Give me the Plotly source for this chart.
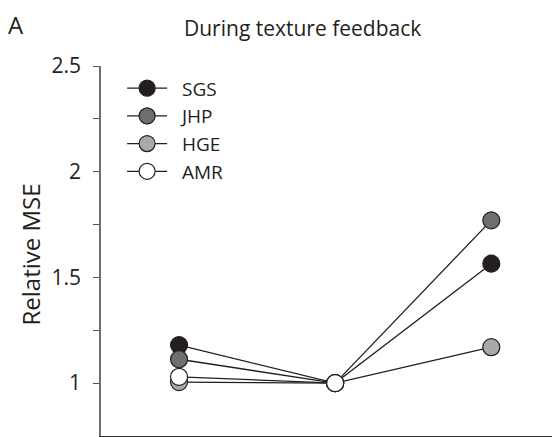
import plotly.graph_objects as go

conditions = [1, 2, 3]
subjects = ["SGS", "JHP", "HGE", "AMR"]
sgs = [1.18, 1.0, 1.565]
jhp = [1.113, 1.0, 1.77]
hge = [1.005, 1.0, 1.17]
amr = [1.03, 1.0, None]
series = [sgs, jhp, hge, amr]
fills = ["#231f20", "#6d6e71", "#a7a9ac", "#ffffff"]

ytick_vals = [1, 1.25, 1.5, 1.75, 2, 2.25, 2.5]
ytick_text = ["1", "", "1.5", "", "2", "", "2.5"]

FONT = "Open Sans"
INK = "#231f20"
PAD = "\u00a0\u00a0"

fig = go.Figure()
for name, vals, col in zip(subjects, series, fills):
    fig.add_trace(go.Scatter(
        x=conditions, y=vals, name=PAD + name, mode="lines+markers",
        line=dict(color=INK, width=1.3),
        marker=dict(size=17, color=col, line=dict(color=INK, width=1.2)),
        connectgaps=False,
    ))

# page body has an 8px default margin; figure is sized to fill the window
fig.update_layout(
    width=552, height=429,
    margin=dict(l=93, r=0, t=58, b=1),
    paper_bgcolor="white", plot_bgcolor="white",
    font=dict(family=FONT, color=INK, size=21),
    showlegend=True,
    legend=dict(x=0.046, y=0.991, xanchor="left", yanchor="top",
                font=dict(size=19, family=FONT, color=INK),
                bgcolor="rgba(0,0,0,0)", itemwidth=40, tracegroupgap=0),
    xaxis=dict(range=[0.5, 3.44], showgrid=False, zeroline=False,
               showticklabels=False, ticks="", showline=True,
               linecolor="#333333", linewidth=2),
    yaxis=dict(range=[0.75, 2.5], showgrid=False, zeroline=False,
               tickvals=ytick_vals, ticktext=ytick_text,
               ticks="outside", ticklen=6, tickwidth=1.2, tickcolor="#555555",
               showline=True, linecolor="#6d6e71", linewidth=1.5,
               ticklabelstandoff=8,
               tickfont=dict(size=21, family=FONT, color=INK)),
    annotations=[
        dict(text="Relative MSE", xref="paper", yref="paper",
             x=(31 - 101) / 459, y=0.4905, xanchor="center", yanchor="middle",
             textangle=-90, showarrow=False,
             font=dict(size=24, family=FONT, color=INK)),
        dict(text="During texture feedback", xref="paper", yref="paper",
             x=0.439, y=(436 - 28) / 370, xanchor="center", yanchor="middle",
             showarrow=False, font=dict(size=21, family=FONT, color=INK)),
        dict(text="A", xref="paper", yref="paper",
             x=(16 - 101) / 459, y=(436 - 24) / 370,
             xanchor="center", yanchor="middle",
             showarrow=False, font=dict(size=24, family=FONT, color=INK)),
    ],
)

fig.write_html("out.html")
